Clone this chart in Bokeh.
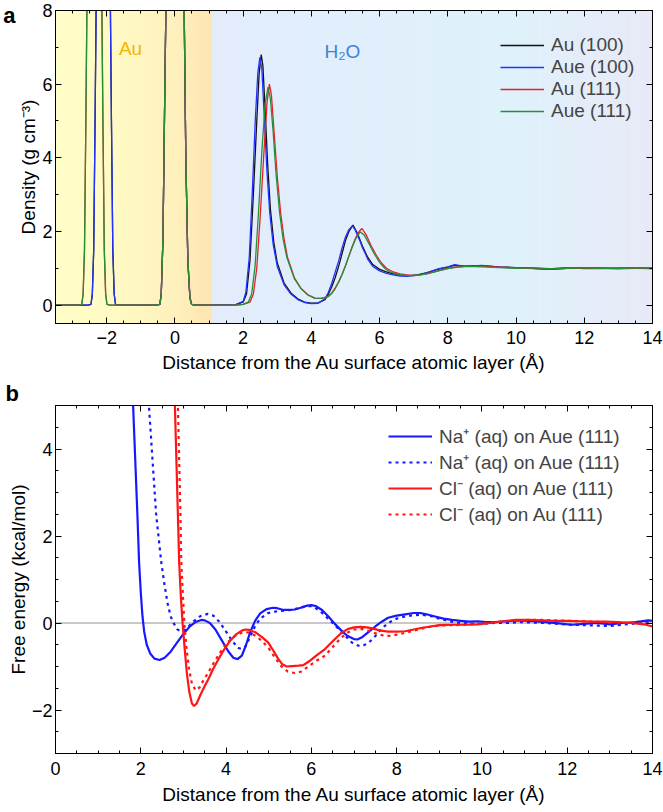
import numpy as np
from bokeh.plotting import figure
from bokeh.models import (LinearAxis, SingleIntervalTicker, FixedTicker, Range1d, Legend, LegendItem,
                          Label, Span, CustomJSTickFormatter, Title)
from bokeh.layouts import column
from bokeh.embed import file_html
from bokeh.resources import INLINE

FONT = "Liberation Sans"

# ---------------- Panel a: density profiles ----------------
au100_x = [-3.5, -2.55, -2.46, -2.42, -2.38, -2.34, -2.3, -2.2, -2.1, -2.0, -1.9, -1.86, -1.82, -1.78, -1.74, -1.65,
           -0.55, -0.44, -0.40, -0.35, -0.3, -0.25, -0.15, 0.0, 0.15, 0.26, 0.32, 0.38, 0.44, 0.49, 0.6,
           1.0, 1.8, 2.0, 2.1, 2.2, 2.3, 2.4, 2.47, 2.53, 2.58, 2.65, 2.72, 2.8, 2.9, 3.0, 3.2, 3.4, 3.6, 3.8,
           4.0, 4.2, 4.4, 4.5, 4.6, 4.7, 4.8, 4.9, 5.0, 5.1, 5.22, 5.35, 5.5, 5.65, 5.8, 6.0, 6.2, 6.4, 6.6,
           6.85, 7.1, 7.4, 7.7, 8.0, 8.2, 8.5, 9.0, 9.5, 10.0, 10.5, 11.0, 11.5, 12.0, 12.5, 13.0, 13.5, 14.0]
au100_y = [0, 0, 0.02, 0.3, 1.5, 5, 9, 30, 45, 30, 9, 5, 1.5, 0.3, 0.02, 0,
           0, 0.02, 0.3, 1.8, 5.5, 9, 30, 45, 30, 9, 4, 1.2, 0.2, 0.02, 0,
           0, 0.02, 0.08, 0.3, 1.2, 3.0, 5.0, 6.3, 6.8, 6.5, 5.2, 3.8, 2.6, 1.7, 1.15, 0.6, 0.33, 0.17, 0.08,
           0.05, 0.06, 0.15, 0.3, 0.5, 0.75, 1.05, 1.4, 1.75, 2.0, 2.17, 1.95, 1.6, 1.3, 1.1, 0.97, 0.9, 0.85, 0.82,
           0.8, 0.82, 0.88, 0.97, 1.03, 1.08, 1.06, 1.07, 1.04, 1.02, 1.0, 0.97, 1.0, 1.01, 1.0, 0.99, 1.0, 1.0]

aue100_x = [-3.5, -2.55, -2.46, -2.42, -2.38, -2.34, -2.3, -2.2, -2.1, -2.0, -1.9, -1.86, -1.82, -1.78, -1.74, -1.65,
            -0.55, -0.44, -0.40, -0.35, -0.3, -0.25, -0.15, 0.0, 0.15, 0.26, 0.32, 0.38, 0.44, 0.49, 0.6,
            1.0, 1.8, 2.0, 2.08, 2.18, 2.27, 2.36, 2.43, 2.49, 2.55, 2.62, 2.7, 2.78, 2.88, 3.0, 3.2, 3.4, 3.6, 3.8,
            4.0, 4.2, 4.4, 4.5, 4.6, 4.7, 4.8, 4.9, 5.0, 5.1, 5.2, 5.28, 5.35, 5.42, 5.5, 5.58, 5.65, 5.8, 6.0,
            6.2, 6.4, 6.6, 6.8, 7.0, 7.2, 7.4, 7.7, 8.0, 8.2, 8.5, 9.0, 9.5, 10.0, 10.5, 11.0, 11.5, 12.0, 12.5,
            13.0, 13.5, 14.0]
aue100_y = [0, 0, 0.02, 0.3, 1.5, 5, 9, 30, 45, 30, 9, 5, 1.5, 0.3, 0.02, 0,
            0, 0.02, 0.3, 1.8, 5.5, 9, 30, 45, 30, 9, 4, 1.2, 0.2, 0.02, 0,
            0, 0.02, 0.1, 0.35, 1.3, 3.1, 5.1, 6.3, 6.73, 6.4, 5.1, 3.6, 2.5, 1.65, 1.05, 0.55, 0.3, 0.15, 0.07,
            0.04, 0.05, 0.17, 0.35, 0.6, 0.9, 1.2, 1.55, 1.85, 2.05, 2.15, 2.05, 1.9, 1.75, 1.55, 1.4, 1.25, 1.05, 0.93,
            0.86, 0.82, 0.79, 0.78, 0.8, 0.83, 0.88, 0.98, 1.04, 1.1, 1.05, 1.08, 1.03, 1.01, 1.0, 0.98, 1.02, 0.99, 1.0,
            1.0, 1.01, 0.99]

au111_x = [-3.5, -2.8, -2.73, -2.69, -2.65, -2.61, -2.57, -2.47, -2.36, -2.25, -2.15, -2.11, -2.07, -2.03, -1.99, -1.9,
           -0.55, -0.44, -0.40, -0.35, -0.3, -0.25, -0.15, 0.0, 0.15, 0.26, 0.32, 0.38, 0.44, 0.49, 0.6,
           1.0, 1.8, 2.0, 2.2, 2.3, 2.4, 2.5, 2.6, 2.7, 2.77, 2.83, 2.9, 3.0, 3.1, 3.2, 3.3, 3.5, 3.7, 3.9,
           4.1, 4.3, 4.5, 4.6, 4.7, 4.8, 4.9, 5.0, 5.1, 5.2, 5.3, 5.4, 5.48, 5.6, 5.75, 5.9, 6.05, 6.2, 6.4,
           6.6, 6.8, 7.0, 7.3, 7.6, 7.9, 8.2, 8.5, 9.0, 9.5, 10.0, 10.5, 11.0, 11.5, 12.0, 12.5, 13.0, 13.5, 14.0]
au111_y = [0, 0, 0.02, 0.3, 1.5, 5, 9, 30, 45, 30, 9, 5, 1.5, 0.3, 0.02, 0,
           0, 0.02, 0.3, 1.8, 5.5, 9, 30, 45, 30, 9, 4, 1.2, 0.2, 0.02, 0,
           0, 0, 0.02, 0.08, 0.3, 1.0, 2.4, 4.0, 5.5, 6.0, 5.7, 4.8, 3.5, 2.5, 1.8, 1.3, 0.75, 0.45, 0.28,
           0.19, 0.18, 0.24, 0.33, 0.47, 0.63, 0.83, 1.07, 1.33, 1.6, 1.83, 2.0, 2.08, 1.92, 1.62, 1.36, 1.15, 1.0, 0.9,
           0.85, 0.82, 0.8, 0.84, 0.9, 0.98, 1.03, 1.05, 1.06, 1.03, 1.01, 0.99, 0.98, 1.0, 1.0, 0.99, 1.01, 1.0, 0.99]

aue111_x = [-3.5, -2.8, -2.73, -2.69, -2.65, -2.61, -2.57, -2.47, -2.36, -2.25, -2.15, -2.11, -2.07, -2.03, -1.99, -1.9,
            -0.55, -0.44, -0.40, -0.35, -0.3, -0.25, -0.15, 0.0, 0.15, 0.26, 0.32, 0.38, 0.44, 0.49, 0.6,
            1.0, 1.8, 2.0, 2.15, 2.25, 2.35, 2.45, 2.55, 2.65, 2.73, 2.8, 2.88, 2.97, 3.07, 3.17, 3.28, 3.5, 3.7, 3.9,
            4.1, 4.3, 4.5, 4.6, 4.7, 4.8, 4.9, 5.0, 5.1, 5.2, 5.3, 5.43, 5.55, 5.7, 5.85, 6.0, 6.15, 6.3, 6.5,
            6.7, 6.9, 7.1, 7.4, 7.7, 8.0, 8.3, 8.6, 9.0, 9.5, 10.0, 10.5, 11.0, 11.5, 12.0, 12.5, 13.0, 13.5, 14.0]
aue111_y = [0, 0, 0.02, 0.3, 1.5, 5, 9, 30, 45, 30, 9, 5, 1.5, 0.3, 0.02, 0,
            0, 0.02, 0.3, 1.8, 5.5, 9, 30, 45, 30, 9, 4, 1.2, 0.2, 0.02, 0,
            0, 0, 0.02, 0.08, 0.3, 1.05, 2.5, 4.2, 5.5, 5.92, 5.6, 4.7, 3.5, 2.5, 1.8, 1.3, 0.72, 0.44, 0.27,
            0.19, 0.18, 0.23, 0.32, 0.45, 0.62, 0.83, 1.07, 1.33, 1.58, 1.8, 1.99, 1.9, 1.65, 1.38, 1.16, 1.0, 0.9, 0.84,
            0.81, 0.8, 0.81, 0.85, 0.92, 0.99, 1.03, 1.05, 1.04, 1.02, 1.0, 1.01, 0.99, 1.0, 1.01, 1.0, 0.99, 1.01, 1.0]

density_labels = ["Au (100)", "Aue (100)", "Au (111)", "Aue (111)"]
AU_REGION_END = 1.1

# ---------------- Panel b: free energy ----------------
na_aue_x = [1.70, 1.82, 1.92, 1.96, 2.0, 2.04, 2.08, 2.14, 2.22, 2.32, 2.44, 2.56, 2.7, 2.85, 3.0, 3.15, 3.3, 3.42,
            3.5, 3.62, 3.75, 3.9, 4.05, 4.17, 4.27, 4.37, 4.47, 4.57, 4.68, 4.8, 4.95, 5.1, 5.2, 5.35, 5.5, 5.61,
            5.75, 5.9, 6.0, 6.1, 6.25, 6.4, 6.55, 6.7, 6.85, 7.0, 7.08, 7.2, 7.35, 7.5, 7.65, 7.8, 8.0, 8.2, 8.4,
            8.55, 8.7, 8.9, 9.1, 9.3, 9.5, 9.7, 9.9, 10.1, 10.3, 10.6, 10.9, 11.2, 11.5, 11.8, 12.1, 12.4, 12.7,
            13.0, 13.3, 13.6, 13.9, 14.0]
na_aue_y = [8.0, 5.0, 2.5, 1.4, 0.7, 0.15, -0.2, -0.5, -0.7, -0.82, -0.85, -0.8, -0.66, -0.45, -0.25, -0.08, 0.03, 0.07,
            0.06, 0.0, -0.15, -0.4, -0.65, -0.8, -0.83, -0.75, -0.5, -0.2, 0.05, 0.22, 0.32, 0.35, 0.34, 0.3, 0.3, 0.31,
            0.35, 0.4, 0.41, 0.39, 0.3, 0.15, -0.02, -0.17, -0.3, -0.37, -0.38, -0.32, -0.2, -0.08, 0.03, 0.12, 0.17, 0.2, 0.23,
            0.23, 0.2, 0.15, 0.1, 0.07, 0.05, 0.03, 0.04, 0.02, 0.02, 0.04, 0.06, 0.04, 0.02, -0.01, -0.04, -0.02, 0.0,
            -0.03, 0.0, 0.02, 0.06, 0.05]

na_au_x = [2.0, 2.19, 2.36, 2.48, 2.56, 2.63, 2.7, 2.77, 2.85, 2.93, 3.02, 3.12, 3.25, 3.4, 3.57, 3.7, 3.85, 4.0,
           4.15, 4.28, 4.37, 4.45, 4.55, 4.68, 4.8, 4.99, 5.2, 5.4, 5.54, 5.7, 5.85, 5.95, 6.05, 6.2, 6.35, 6.5,
           6.65, 6.8, 6.95, 7.1, 7.2, 7.35, 7.5, 7.65, 7.8, 8.0, 8.2, 8.4, 8.6, 8.8, 9.0, 9.2, 9.4, 9.7, 10.0,
           10.3, 10.6, 10.9, 11.2, 11.5, 11.8, 12.1, 12.4, 12.7, 13.0, 13.3, 13.6, 14.0]
na_au_y = [8.0, 5.0, 2.5, 1.4, 0.85, 0.45, 0.15, 0.0, -0.14, -0.19, -0.17, -0.08, 0.05, 0.16, 0.21, 0.17, 0.02, -0.2,
           -0.42, -0.57, -0.6, -0.55, -0.35, -0.07, 0.1, 0.23, 0.27, 0.29, 0.3, 0.34, 0.38, 0.39, 0.37, 0.28, 0.14, 0.0,
           -0.15, -0.3, -0.45, -0.52, -0.53, -0.45, -0.3, -0.13, 0.0, 0.1, 0.15, 0.18, 0.19, 0.16, 0.1, 0.05, 0.01, -0.01, -0.02,
           0.0, 0.0, 0.02, 0.01, 0.0, -0.02, -0.04, -0.05, -0.06, -0.07, -0.04, -0.01, 0.03]

cl_aue_x = [2.74, 2.80, 2.87, 2.90, 2.94, 2.98, 3.03, 3.08, 3.14, 3.2, 3.25, 3.31, 3.4, 3.5, 3.59, 3.7, 3.85, 3.98,
            4.1, 4.25, 4.38, 4.46, 4.55, 4.7, 4.85, 4.99, 5.1, 5.22, 5.32, 5.42, 5.55, 5.7, 5.81, 5.95, 6.1, 6.32,
            6.5, 6.7, 6.85, 7.0, 7.15, 7.3, 7.45, 7.6, 7.8, 8.0, 8.2, 8.4, 8.6, 8.8, 9.0, 9.3, 9.6, 9.9, 10.2,
            10.5, 10.8, 11.1, 11.4, 11.7, 12.0, 12.3, 12.6, 12.9, 13.2, 13.5, 13.8, 14.0]
cl_aue_y = [8.0, 5.0, 2.5, 1.4, 0.6, 0.0, -0.6, -1.15, -1.6, -1.85, -1.91, -1.85, -1.65, -1.45, -1.28, -1.05, -0.78, -0.57,
            -0.4, -0.25, -0.17, -0.15, -0.16, -0.22, -0.33, -0.45, -0.62, -0.82, -0.95, -1.0, -0.99, -0.98, -0.97, -0.88, -0.76, -0.6,
            -0.42, -0.23, -0.14, -0.1, -0.09, -0.1, -0.13, -0.17, -0.2, -0.2, -0.19, -0.15, -0.11, -0.08, -0.05, -0.04, -0.04, -0.03, 0.0,
            0.04, 0.07, 0.07, 0.06, 0.05, 0.05, 0.04, 0.03, 0.03, 0.02, 0.0, -0.03, -0.08]

cl_au_x = [2.81, 2.87, 2.93, 2.95, 2.99, 3.02, 3.07, 3.13, 3.2, 3.29, 3.38, 3.48, 3.59, 3.72, 3.88, 4.05, 4.2, 4.35,
           4.45, 4.55, 4.7, 4.85, 5.0, 5.15, 5.3, 5.45, 5.61, 5.75, 5.9, 6.1, 6.32, 6.5, 6.7, 6.85, 7.0, 7.2, 7.4,
           7.6, 7.75, 7.9, 8.1, 8.3, 8.5, 8.7, 9.0, 9.3, 9.6, 9.9, 10.2, 10.5, 10.8, 11.1, 11.4, 11.7, 12.0, 12.3,
           12.6, 12.9, 13.2, 13.5, 13.8, 14.0]
cl_au_y = [8.0, 5.0, 2.5, 1.4, 0.6, 0.0, -0.55, -1.05, -1.4, -1.55, -1.48, -1.3, -1.13, -0.9, -0.65, -0.43, -0.3, -0.23,
           -0.21, -0.22, -0.3, -0.42, -0.58, -0.8, -1.0, -1.12, -1.15, -1.12, -1.02, -0.88, -0.75, -0.55, -0.34, -0.22, -0.15, -0.14, -0.2,
           -0.27, -0.3, -0.29, -0.25, -0.2, -0.15, -0.1, -0.06, -0.05, -0.04, -0.02, 0.01, 0.04, 0.06, 0.07, 0.07, 0.06, 0.05, 0.04,
           0.03, 0.02, 0.01, 0.0, -0.01, -0.02]

energy_labels = ["Na\u207a (aq) on Aue (111)", "Na\u207a (aq) on Aue (111)",
                 "Cl\u207b (aq) on Aue (111)", "Cl\u207b (aq) on Au (111)"]

XLABEL = "Distance from the Au surface atomic layer (\u00c5)"
MINUS_FMT = "return (tick < 0 ? '\u2212' : '') + Math.abs(tick);"
DENSITY_COLORS = ["#111111", "#2233ff", "#e8202a", "#23903a"]


def style_axis(ax, interval, minor, labels=True, tick_standoff=8, label_standoff=6):
    ax.ticker = SingleIntervalTicker(interval=interval, num_minor_ticks=minor)
    ax.major_tick_in = 6
    ax.major_tick_out = 0
    ax.minor_tick_in = 3
    ax.minor_tick_out = 0
    ax.axis_line_color = "black"
    ax.major_tick_line_color = "black"
    ax.minor_tick_line_color = "black"
    if labels:
        ax.formatter = CustomJSTickFormatter(code=MINUS_FMT)
        ax.major_label_text_font = FONT
        ax.major_label_text_font_size = "18px"
        ax.major_label_text_color = "black"
        ax.major_label_standoff = tick_standoff
        ax.axis_label_text_font = FONT
        ax.axis_label_text_font_size = "19px"
        ax.axis_label_text_font_style = "normal"
        ax.axis_label_text_color = "black"
        ax.axis_label_standoff = label_standoff
    else:
        ax.formatter = CustomJSTickFormatter(code="return '';")
        ax.major_label_text_font_size = "0px"
        ax.major_label_standoff = 0
        ax.axis_label_standoff = 0


def make_frame(p, xint, xminor, yint, yminor, xlabel, ylabel, xs=(8, 6)):
    p.xgrid.visible = False
    p.ygrid.visible = False
    p.outline_line_color = "black"
    bottom = p.xaxis[0]
    left = p.yaxis[0]
    style_axis(bottom, xint, xminor, tick_standoff=xs[0], label_standoff=xs[1])
    style_axis(left, yint, yminor, tick_standoff=3, label_standoff=0)
    bottom.axis_label = xlabel
    left.axis_label = ylabel
    top = LinearAxis()
    style_axis(top, xint, xminor, labels=False)
    p.add_layout(top, "above")
    right = LinearAxis()
    style_axis(right, yint, yminor, labels=False)
    p.add_layout(right, "right")


def lerp_colors(stops, xs):
    pos = [s[0] for s in stops]
    rgb = np.array([[int(s[1][i:i + 2], 16) for i in (1, 3, 5)] for s in stops], dtype=float)
    out = []
    for x in xs:
        c = [np.interp(x, pos, rgb[:, k]) for k in range(3)]
        out.append("#%02x%02x%02x" % tuple(int(round(v)) for v in c))
    return out


def style_legend(lg, spacing):
    lg.label_text_font = FONT
    lg.label_text_font_size = "19px"
    lg.glyph_width = 44
    lg.glyph_height = 20
    lg.label_height = 20
    lg.label_standoff = 7
    lg.spacing = spacing
    lg.padding = 0
    lg.margin = 0
    lg.background_fill_alpha = 0
    lg.border_line_alpha = 0


# ---------------- figure a ----------------
p1 = figure(width=663, height=378, x_range=Range1d(-3.5, 14), y_range=Range1d(-0.5, 8),
            output_backend="svg", toolbar_location=None,
            min_border_left=53, min_border_right=11, min_border_top=10, min_border_bottom=55)
make_frame(p1, 2, 4, 2, 2, XLABEL, "Density (g cm\u207b\u00b3)", xs=(7, 5))

# panel letter "a": an outer left axis whose only tick (frame top) is labelled "a"
letter_axis = LinearAxis(ticker=FixedTicker(ticks=[8]), major_label_overrides={8: "a"},
                         axis_line_color=None, major_tick_line_color=None, minor_tick_line_color=None,
                         major_tick_in=0, major_tick_out=0, minor_tick_in=0, minor_tick_out=0,
                         axis_label_standoff=0,
                         major_label_text_font=FONT, major_label_text_font_size="22px",
                         major_label_text_font_style="bold", major_label_text_color="black",
                         major_label_standoff=0)
p1.add_layout(letter_axis, "left")

# background gradient bands
n1, n2 = 60, 120
e1 = np.linspace(-3.5, AU_REGION_END, n1 + 1)
e2 = np.linspace(AU_REGION_END, 14, n2 + 1)
c1 = lerp_colors([(-3.5, "#fffec8"), (-1.5, "#fff9c3"), (0.0, "#fef0bc"), (AU_REGION_END, "#fde5b2")],
                 0.5 * (e1[:-1] + e1[1:]))
c2 = lerp_colors([(AU_REGION_END, "#e3ecfb"), (6.0, "#e0effb"), (10.0, "#dff1fb"), (14.0, "#e8e9f7")],
                 0.5 * (e2[:-1] + e2[1:]))
lefts = list(e1[:-1]) + list(e2[:-1])
rights = list(e1[1:]) + list(e2[1:])
cols = c1 + c2
p1.quad(left=lefts, right=rights, top=8, bottom=-0.5, fill_color=cols, line_color=cols, line_width=1)

density_renderers = []
for xs_, ys_, c in zip([au100_x, aue100_x, au111_x, aue111_x], [au100_y, aue100_y, au111_y, aue111_y],
                       DENSITY_COLORS):
    density_renderers.append(p1.line(xs_, ys_, line_color=c, line_width=1.3))

leg1 = Legend(items=[LegendItem(label=l, renderers=[r]) for l, r in zip(density_labels, density_renderers)],
              location=(445, 201))
style_legend(leg1, 0)
p1.add_layout(leg1)

p1.add_layout(Label(x=-1.3, y=6.98, text="Au", text_align="center", text_baseline="middle",
                    text_color="#f5b400", text_font=FONT, text_font_size="19px"))
p1.add_layout(Label(x=4.91, y=6.9, text="H\u2082O", text_align="center", text_baseline="middle",
                    text_color="#3a84d8", text_font=FONT, text_font_size="19px"))

# ---------------- figure b ----------------
p2 = figure(width=663, height=432, x_range=Range1d(0, 14), y_range=Range1d(-3, 5),
            output_backend="svg", toolbar_location=None,
            min_border_left=53, min_border_right=11, min_border_top=22, min_border_bottom=57)
make_frame(p2, 2, 4, 2, 4, XLABEL, "Free energy (kcal/mol)")
p2.add_layout(Title(text="b", align="left", offset=-50, standoff=0, text_font=FONT,
                    text_font_size="22px", text_font_style="bold", text_color="black"), "above")

p2.add_layout(Span(location=0, dimension="width", line_color="#c8c8c8", line_width=2, level="underlay"))

r_b1 = p2.line(na_aue_x, na_aue_y, line_color="#1818ff", line_width=2.2)
r_b2 = p2.line(na_au_x, na_au_y, line_color="#1818ff", line_width=2.2, line_dash="3 4")
r_b3 = p2.line(cl_aue_x, cl_aue_y, line_color="#ff1515", line_width=2.2)
r_b4 = p2.line(cl_au_x, cl_au_y, line_color="#ff1515", line_width=2.2, line_dash="3 4")

leg2 = Legend(items=[LegendItem(label=l, renderers=[r]) for l, r in
                     zip(energy_labels, [r_b1, r_b2, r_b3, r_b4])],
              location=(333, 226))
style_legend(leg2, -3)
p2.add_layout(leg2)

layout = column(p1, p2, spacing=0)
open("out.html", "w").write(file_html(layout, INLINE))
